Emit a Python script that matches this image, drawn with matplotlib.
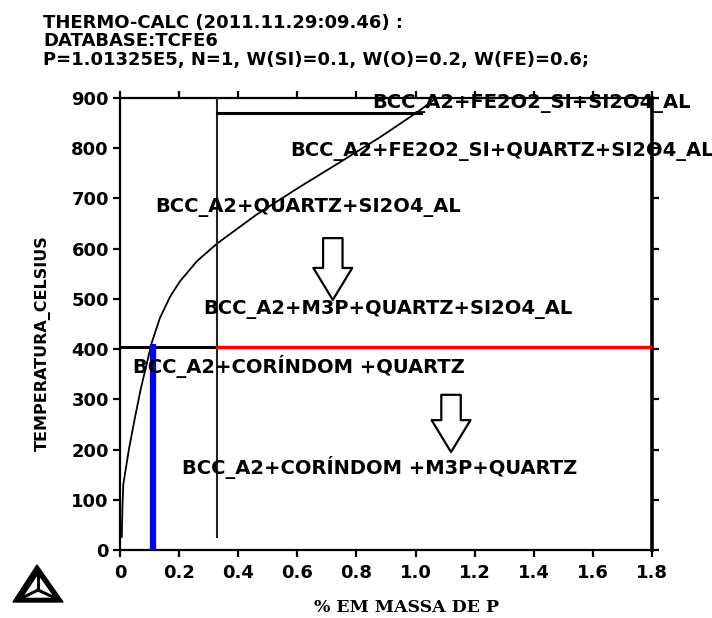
import matplotlib
matplotlib.use("Agg")
import matplotlib.pyplot as plt
from matplotlib.patches import Polygon

# ---------------- data ----------------
title_lines = ["THERMO-CALC (2011.11.29:09.46) :",
               "DATABASE:TCFE6",
               "P=1.01325E5, N=1, W(SI)=0.1, W(O)=0.2, W(FE)=0.6;"]

xticks = [0, 0.2, 0.4, 0.6, 0.8, 1.0, 1.2, 1.4, 1.6, 1.8]
xtick_labels = ["0", "0.2", "0.4", "0.6", "0.8", "1.0", "1.2", "1.4", "1.6", "1.8"]
yticks = [0, 100, 200, 300, 400, 500, 600, 700, 800, 900]
ytick_labels = ["0", "100", "200", "300", "400", "500", "600", "700", "800", "900"]

# solubility curve
curve_x = [0.006, 0.008, 0.011, 0.03, 0.05, 0.07, 0.09, 0.107, 0.135, 0.17,
           0.203, 0.26, 0.328, 0.46, 0.6, 0.744, 0.88, 1.009, 1.07]
curve_y = [26, 80, 130, 200, 262, 320, 370, 412, 462, 505,
           535, 575, 610, 667, 720, 772, 822, 873, 900]

# phase boundaries
vline_x = 0.328
vline_y = [26, 900]
hline_870_x = [0.328, 1.02]
hline_870_y = [870, 870]
hline_405_black_x = [0.0, 0.328]
hline_405_red_x = [0.328, 1.8]
hline_405_y = [405, 405]
blue_x = [0.11, 0.11]
blue_y = [0, 410]

# region labels: (text, x_left, y_center)
labels_text = ["BCC_A2+FE2O2_SI+SI2O4_AL",
               "BCC_A2+FE2O2_SI+QUARTZ+SI2O4_AL",
               "BCC_A2+QUARTZ+SI2O4_AL",
               "BCC_A2+M3P+QUARTZ+SI2O4_AL",
               "BCC_A2+CORÍNDOM +QUARTZ",
               "BCC_A2+CORÍNDOM +M3P+QUARTZ"]
labels_x = [0.853, 0.575, 0.118, 0.281, 0.044, 0.21]
labels_y = [890, 793, 681, 478, 365, 165]

# hollow arrows: x, y_start, y_end
arrows_x = [0.72, 1.12]
arrows_y0 = [621, 309]
arrows_y1 = [498, 195]

# ---------------- figure ----------------
W, H = 712, 618
fig = plt.figure(figsize=(W / 100, H / 100), dpi=100)
ax = fig.add_axes([120 / W, 1 - 550 / H, 532 / W, 452 / H])

FONT = "DejaVu Sans"

ax.set_xlim(0, 1.8)
ax.set_ylim(0, 900)

ax.plot(curve_x, curve_y, color="black", lw=1.3, zorder=3)
ax.plot([vline_x, vline_x], vline_y, color="#222222", lw=1.5, zorder=3)
ax.plot(hline_870_x, hline_870_y, color="black", lw=2.2, zorder=3)
ax.plot(hline_405_black_x, hline_405_y, color="black", lw=2.2, zorder=3)
ax.plot(hline_405_red_x, hline_405_y, color="#ff0000", lw=2.5, zorder=3)
ax.plot(blue_x, blue_y, color="#0000ff", lw=4.5, zorder=4,
        solid_capstyle="butt", clip_on=False)

for t, x, y in zip(labels_text, labels_x, labels_y):
    ax.text(x, y, t, ha="left", va="center", fontsize=14,
            fontweight="bold", family=FONT, color="black", zorder=5,
            clip_on=False)

for x, y0, y1 in zip(arrows_x, arrows_y0, arrows_y1):
    ax.annotate("", xy=(x, y1), xytext=(x, y0),
                arrowprops=dict(arrowstyle="simple,head_length=2.3,head_width=2.8,tail_width=1.4",
                                fc="white", ec="black", lw=1.6,
                                shrinkA=0, shrinkB=0, mutation_scale=10),
                zorder=5)

# ticks and spines
ax.set_xticks(xticks)
ax.set_xticklabels(xtick_labels)
ax.set_yticks(yticks)
ax.set_yticklabels(ytick_labels)
ax.tick_params(axis="both", which="both", direction="out", length=5, width=1.6,
               top=True, right=True, labeltop=False, labelright=False,
               labelsize=13)
ax.tick_params(axis="x", pad=5)
ax.tick_params(axis="y", pad=3)
for lab in ax.get_xticklabels() + ax.get_yticklabels():
    lab.set_fontweight("bold")
    lab.set_family(FONT)
for s in ["left", "bottom", "top"]:
    ax.spines[s].set_linewidth(1.6)
ax.spines["right"].set_linewidth(2.6)

# axis titles
fig.text(407 / W, 1 - 607 / H, "% EM MASSA DE P", ha="center", va="center",
         fontsize=12.5, fontweight="bold", family="DejaVu Serif")
fig.text(43 / W, 1 - 343 / H, "TEMPERATURA_CELSIUS", ha="center", va="center",
         rotation=90, fontsize=11.5, fontweight="bold", family=FONT)

# title block
for i, line in enumerate(title_lines):
    fig.text(43 / W, 1 - (28 + 18.5 * i) / H, line, ha="left", va="baseline",
             fontsize=13, fontweight="bold", family=FONT)

# Thermo-Calc logo (approximate)
def px(x, y):
    return (x / W, 1 - y / H)

outer = Polygon([px(13, 602), px(63, 602), px(37, 565)], closed=True,
                transform=fig.transFigure, fc="black", ec="black")
inner = Polygon([px(24, 597), px(53, 597), px(38, 576)], closed=True,
                transform=fig.transFigure, fc="white", ec="white")
fig.patches.extend([outer, inner])
cx, cy = 38, 590
for vx, vy in [(24, 597), (53, 597), (38, 576)]:
    fig.add_artist(plt.Line2D([cx / W, vx / W], [1 - cy / H, 1 - vy / H],
                              transform=fig.transFigure, color="black", lw=2.2))

fig.savefig("out.png", dpi=100)
